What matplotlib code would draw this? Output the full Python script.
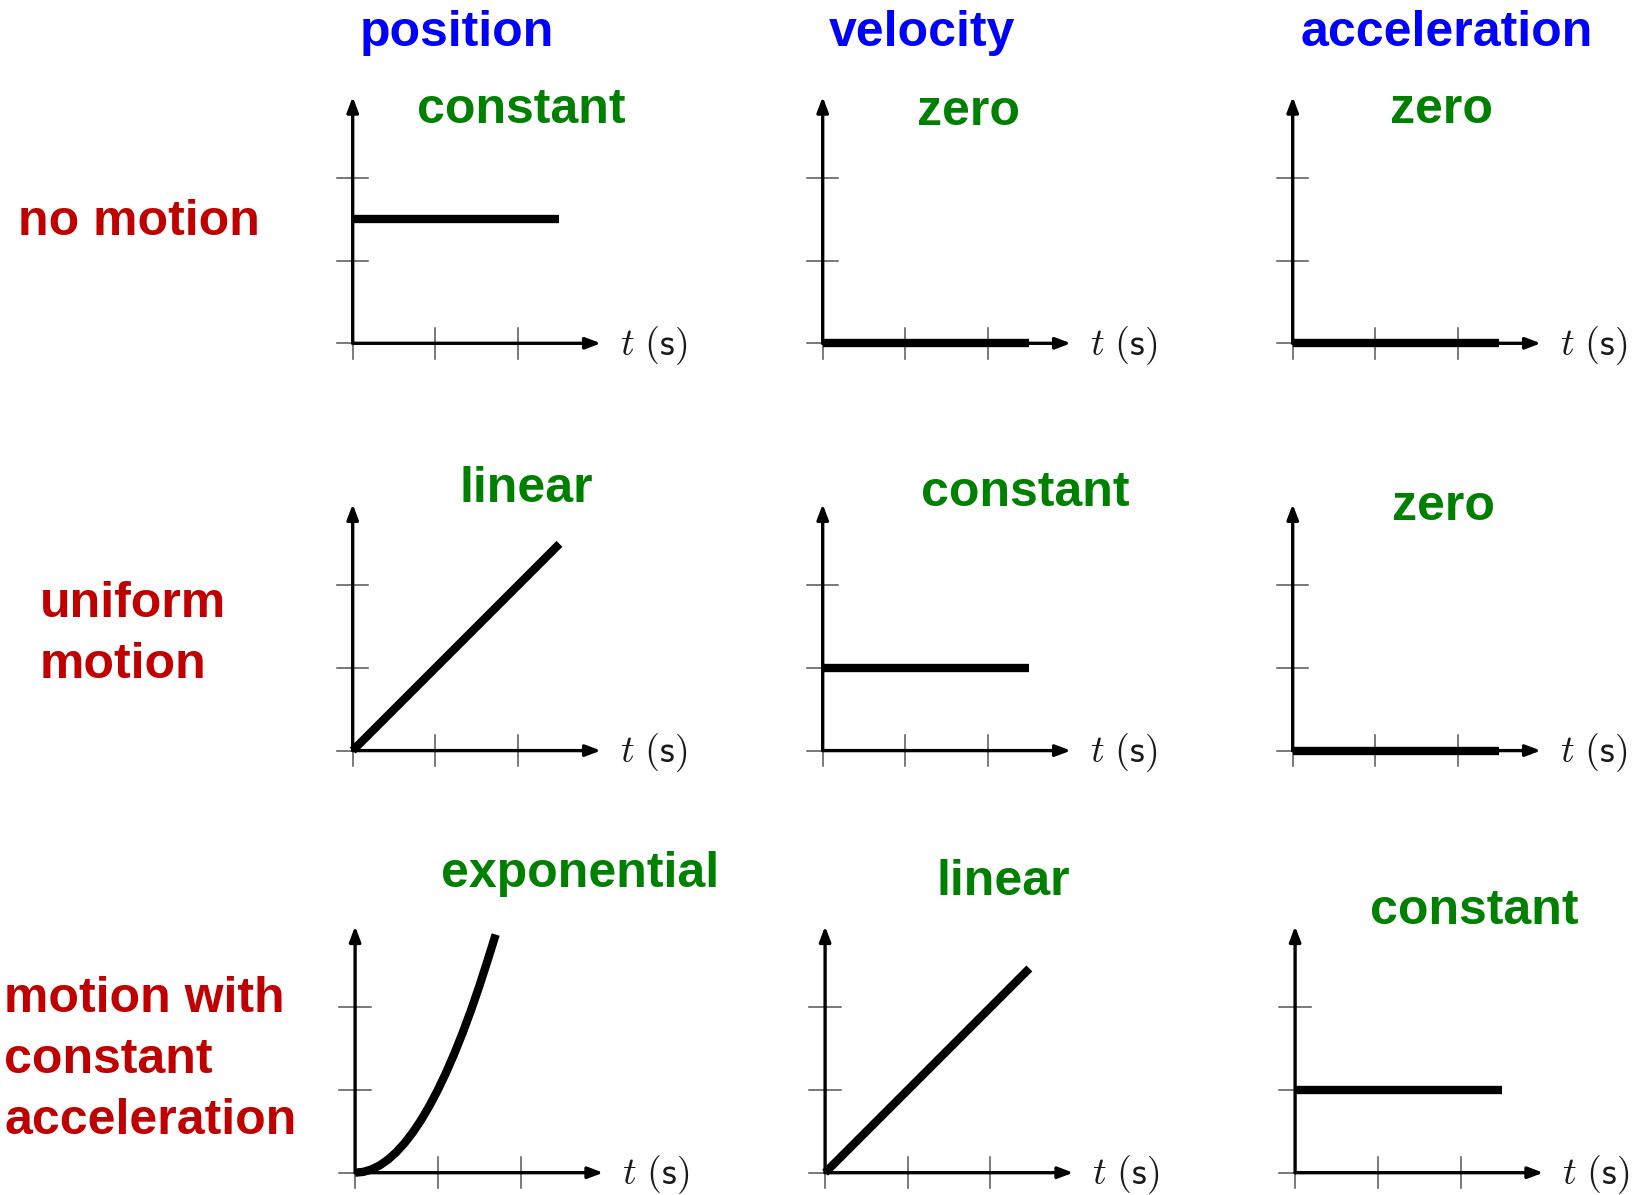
import matplotlib.pyplot as plt

plt.rcParams['mathtext.fontset'] = 'cm'

# Labels
col_labels = ['position', 'velocity', 'acceleration']
row_labels = ['no motion', 'uniform\nmotion', 'motion with\nconstant\nacceleration']
shape_labels = [['constant', 'zero', 'zero'],
                ['linear', 'constant', 'zero'],
                ['exponential', 'linear', 'constant']]
time_label = r'$t\ (\mathsf{s})$'

# Curves (t, value)
zero_t = [0, 2.5]
zero_v = [0, 0]
still_pos_t = [0, 2.5]
still_pos_v = [1.5, 1.5]
uniform_pos_t = [0, 2.5]
uniform_pos_v = [0, 2.5]
uniform_vel_t = [0, 2.5]
uniform_vel_v = [1, 1]
accel_pos_t = [0, 0.1, 0.2, 0.3, 0.4, 0.5, 0.6, 0.7, 0.8, 0.9, 1.0,
               1.1, 1.2, 1.3, 1.4, 1.5, 1.6, 1.7]
accel_pos_v = [0, 0.01, 0.04, 0.09, 0.16, 0.25, 0.36, 0.49, 0.64, 0.81, 1.0,
               1.21, 1.44, 1.69, 1.96, 2.25, 2.56, 2.88]
accel_vel_t = [0, 2.47]
accel_vel_v = [0, 2.47]
accel_acc_t = [0, 2.5]
accel_acc_v = [1, 1]

curves = [[(still_pos_t, still_pos_v), (zero_t, zero_v), (zero_t, zero_v)],
          [(uniform_pos_t, uniform_pos_v), (uniform_vel_t, uniform_vel_v), (zero_t, zero_v)],
          [(accel_pos_t, accel_pos_v), (accel_vel_t, accel_vel_v), (accel_acc_t, accel_acc_v)]]
ticks = [0, 1, 2]

# Layout (pixels, y from top)
W, H = 1637, 1195
U = 82.7                      # pixels per unit
col_x = [352.7, 822.7, 1292.7]
row_y = [343.3, 750.6, 1172.7]
row_dx = [0, 0, 2.4]
head_xy = [(457, 46.5), (921.5, 46.5), (1446.7, 46.5)]
shape_xy = [[(521, 123.3), (969, 125), (1442, 123.3)],
            [(526, 501.7), (1025, 505.7), (1443, 520)],
            [(580, 886.7), (1003.5, 895), (1474.5, 923.5)]]
row_xy = [(18, 235), (39.7, 616.7), (4.2, 1011.7)]
line_gap = 61

BLUE, GREEN, RED = '#0000ff', '#008000', '#c00000'
font = dict(family='Liberation Sans', fontweight='bold', fontsize=36)

fig = plt.figure(figsize=(W / 100, H / 100), dpi=100)

def fx(x):
    return x / W

def fy(y):
    return 1 - y / H

for r in range(3):
    for c in range(3):
        ox = col_x[c] + row_dx[r]
        oy = row_y[r]
        lo, hi = -0.35, 3.6
        ax = fig.add_axes([(ox + lo * U) / W, (H - oy + lo * U) / H,
                           (hi - lo) * U / W, (hi - lo) * U / H])
        ax.set_xlim(lo, hi)
        ax.set_ylim(lo, hi)
        ax.axis('off')

        # tick stubs
        for k in ticks:
            ax.plot([k, k], [-0.19, 0.19], color='#555555', lw=1.1, zorder=1)
            ax.plot([-0.19, 0.19], [k, k], color='#555555', lw=1.1, zorder=1)

        # axes with arrow heads
        arrow = dict(arrowstyle='-|>,head_length=0.45,head_width=0.17',
                     lw=2.4, color='black', shrinkA=0, shrinkB=0,
                     mutation_scale=20)
        ax.annotate('', xy=(3.0, 0), xytext=(0, 0), arrowprops=arrow, zorder=2)
        ax.annotate('', xy=(0, 2.98), xytext=(0, 0), arrowprops=arrow, zorder=2)

        t, v = curves[r][c]
        ax.plot(t, v, color='black', lw=6, solid_capstyle='butt',
                solid_joinstyle='round', zorder=3)

        ax.text(3.23, -0.14, time_label, fontsize=27.5, color='#1a1a1a',
                ha='left', va='baseline')

        sx, sy = shape_xy[r][c]
        fig.text(fx(sx), fy(sy), shape_labels[r][c], color=GREEN,
                 ha='center', va='baseline', **font)

for c in range(3):
    hx, hy = head_xy[c]
    fig.text(fx(hx), fy(hy), col_labels[c], color=BLUE,
             ha='center', va='baseline', **font)

for r in range(3):
    lx, ly = row_xy[r]
    for i, line in enumerate(row_labels[r].split('\n')):
        fig.text(fx(lx), fy(ly + i * line_gap), line, color=RED,
                 ha='left', va='baseline', **font)

fig.savefig('out.png', dpi=100)
